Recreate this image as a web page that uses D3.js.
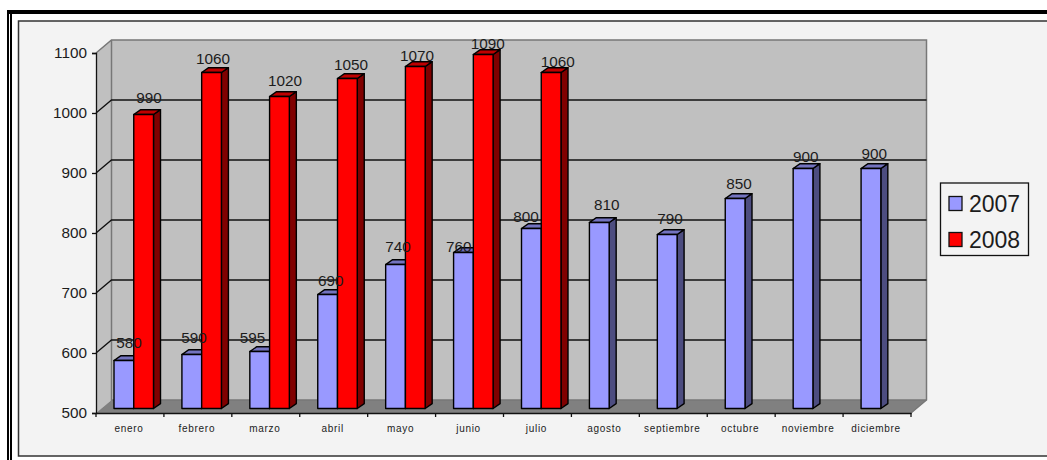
<!DOCTYPE html>
<html>
<head>
<title>2007 vs 2008</title>
<script src="https://d3js.org/d3.v7.min.js"></script>
<style>
body { margin: 0; background: #fff; }
svg { display: block; }
text { font-family: "Liberation Sans", Arial, sans-serif; fill: #1c1c1c; }
</style>
</head>
<body>
<div id="chart"></div>
<script>
var months = ["enero", "febrero", "marzo", "abril", "mayo", "junio", "julio", "agosto", "septiembre", "octubre", "noviembre", "diciembre"];
var values2007 = [580, 590, 595, 690, 740, 760, 800, 810, 790, 850, 900, 900];
var values2008 = [990, 1060, 1020, 1050, 1070, 1090, 1060];
var yTicks = [500, 600, 700, 800, 900, 1000, 1100];
var seriesNames = ["2007", "2008"];

// the value labels were dragged by hand in the original, so each has its own nudge from the bar top
var nudgeX = {
	"2007": [5.1, 2.2, -7.2, 3.1, 2.5, -4.8, -5.4, 7.4, 2.8, 3.9, 2.7, 3.2],
	"2008": [5.4, 1.5, 5.6, 3.6, 1.7, 4.5, 6.6]
};
var nudgeY = {
	"2007": [-12.5, -12, -8.5, -8.5, -12.5, -0.5, -6.8, -12.5, -10.2, -9.5, -6.8, -9.5],
	"2008": [-11.5, -8.5, -10.5, -8.5, -5.5, -5.5, -5.5]
};

var width = 1047, height = 460;

// depth of the fake 3d floor, and of the bars standing on it
var wallDx = 15.5, wallDy = -13;
var barDx = 7, barDy = -4.8, barLift = -4.5;

var colors = {
	"2007": { front: "#9999ff", side: "#4d4d80", top: "#7373bf" },
	"2008": { front: "#ff0000", side: "#800000", top: "#bf0000" }
};

var svg = d3.select("#chart").append("svg")
	.attr("width", width)
	.attr("height", height);

// double frame round the picture
svg.append("rect").attr("x", 7).attr("y", 10).attr("width", 2).attr("height", 450).attr("fill", "#000");
svg.append("rect").attr("x", 10).attr("y", 10).attr("width", 2).attr("height", 450).attr("fill", "#000");
svg.append("rect").attr("x", 7).attr("y", 10).attr("width", 1040).attr("height", 4).attr("fill", "#000");

svg.append("rect")
	.attr("x", 18.5).attr("y", 21)
	.attr("width", 1040).attr("height", 435)
	.attr("fill", "#f3f3f3")
	.attr("stroke", "#333")
	.attr("stroke-width", 1.5);

var x = d3.scaleBand().domain(months).range([96, 911]);
var y = d3.scaleLinear().domain([500, 1100]).range([413, 53]);

var x0 = x.range()[0], x1 = x.range()[1];
var y0 = y.range()[0], y1 = y.range()[1];

// side wall, back wall, floor
function poly(points, fill) {
	return svg.append("polygon")
		.attr("points", points.map(function(p) { return p.join(","); }).join(" "))
		.attr("fill", fill);
}

poly([[x0, y0], [x0 + wallDx, y0 + wallDy], [x0 + wallDx, y1 + wallDy], [x0, y1]], "#c0c0c0");
poly([[x0 + wallDx, y0 + wallDy], [x1 + wallDx, y0 + wallDy], [x1 + wallDx, y1 + wallDy], [x0 + wallDx, y1 + wallDy]], "#c0c0c0");
poly([[x0, y0], [x1, y0], [x1 + wallDx, y0 + wallDy], [x0 + wallDx, y0 + wallDy]], "#808080");

// wall edges
svg.append("path")
	.attr("d", "M" + x0 + "," + y1 + "L" + (x0 + wallDx) + "," + (y1 + wallDy) + "H" + (x1 + wallDx) + "V" + (y0 + wallDy) + "L" + x1 + "," + y0)
	.attr("fill", "none").attr("stroke", "#777").attr("stroke-width", 1.5);
svg.append("path")
	.attr("d", "M" + (x0 + wallDx) + "," + (y1 + wallDy) + "V" + (y0 + wallDy) + "H" + (x1 + wallDx))
	.attr("fill", "none").attr("stroke", "#777").attr("stroke-width", 1.5);

// grid lines
svg.selectAll(".grid")
	.data(yTicks.slice(1, -1))
	.enter()
	.append("path")
		.attr("class", "grid")
		.attr("d", function(d) {
			return "M" + x0 + "," + y(d) + "L" + (x0 + wallDx) + "," + (y(d) + wallDy) + "H" + (x1 + wallDx);
		})
		.attr("fill", "none")
		.attr("stroke", "#111")
		.attr("stroke-width", 1.3);

// axes
var yAxis = d3.axisLeft(y).tickValues(yTicks).tickFormat(d3.format("d")).tickSize(4).tickPadding(5);
var gy = svg.append("g").attr("transform", "translate(" + x0 + ",0)").call(yAxis);
gy.selectAll("text").style("font-size", "15.3px");
gy.selectAll("line, path").attr("stroke", "#111").attr("stroke-width", 1.3);

var xAxis = d3.axisBottom(x).tickSize(0).tickPadding(11.5);
var gx = svg.append("g").attr("transform", "translate(0," + y0 + ")").call(xAxis);
gx.selectAll("text").attr("dx", -1).style("font-size", "10px").style("letter-spacing", "0.7px");
gx.select("path").attr("stroke", "#111").attr("stroke-width", 1.3);

svg.selectAll(".xtick")
	.data(months.concat(["end"]))
	.enter()
	.append("line")
		.attr("class", "xtick")
		.attr("x1", function(d, i) { return x0 + i * x.step(); })
		.attr("x2", function(d, i) { return x0 + i * x.step(); })
		.attr("y1", y0)
		.attr("y2", y0 + 4)
		.attr("stroke", "#111")
		.attr("stroke-width", 1.3);

// bars
var inner = d3.scaleBand().domain(seriesNames).range([18, 57.5]);

var rows = [];
months.forEach(function(m, i) {
	rows.push({ month: m, series: "2007", value: values2007[i], index: i });
	if (i < values2008.length) rows.push({ month: m, series: "2008", value: values2008[i], index: i });
});

var bars = svg.selectAll(".bar")
	.data(rows)
	.enter()
	.append("g")
		.attr("class", "bar")
		.attr("stroke", "#000")
		.attr("stroke-width", 1.4)
		.attr("stroke-linejoin", "round");

function left(d) { return x(d.month) + inner(d.series); }
function right(d) { return left(d) + inner.bandwidth(); }
function topY(d) { return y(d.value) + barLift; }
var floorY = y0 + barLift;

bars.append("path")
	.attr("d", function(d) {
		return "M" + right(d) + "," + topY(d) + "l" + barDx + "," + barDy + "V" + (floorY + barDy) + "L" + right(d) + "," + floorY + "Z";
	})
	.attr("fill", function(d) { return colors[d.series].side; });

bars.append("path")
	.attr("d", function(d) {
		return "M" + left(d) + "," + topY(d) + "l" + barDx + "," + barDy + "H" + (right(d) + barDx) + "L" + right(d) + "," + topY(d) + "Z";
	})
	.attr("fill", function(d) { return colors[d.series].top; });

bars.append("rect")
	.attr("x", left)
	.attr("y", topY)
	.attr("width", inner.bandwidth())
	.attr("height", function(d) { return floorY - topY(d); })
	.attr("fill", function(d) { return colors[d.series].front; });

// value labels, on top of everything
svg.selectAll(".value")
	.data(rows)
	.enter()
	.append("text")
		.attr("class", "value")
		.text(function(d) { return d.value; })
		.attr("x", function(d) { return (left(d) + right(d)) / 2 + nudgeX[d.series][d.index]; })
		.attr("y", function(d) { return topY(d) + nudgeY[d.series][d.index]; })
		.style("text-anchor", "middle")
		.style("font-size", "15.3px");

// legend
var legend = svg.append("g");
legend.append("rect")
	.attr("x", 940.5).attr("y", 183)
	.attr("width", 88).attr("height", 72.5)
	.attr("fill", "#f3f3f3")
	.attr("stroke", "#111")
	.attr("stroke-width", 1.3);

var legendY = d3.scalePoint().domain(seriesNames).range([203.5, 239.5]);

legend.selectAll(".swatch")
	.data(seriesNames)
	.enter()
	.append("rect")
		.attr("class", "swatch")
		.attr("x", 949)
		.attr("y", function(d) { return legendY(d) - 7; })
		.attr("width", 13)
		.attr("height", 14)
		.attr("fill", function(d) { return colors[d].front; })
		.attr("stroke", "#111")
		.attr("stroke-width", 1.3);

legend.selectAll(".name")
	.data(seriesNames)
	.enter()
	.append("text")
		.attr("class", "name")
		.text(function(d) { return d; })
		.attr("x", 969)
		.attr("y", function(d) { return legendY(d) + 8; })
		.style("font-size", "23px");
</script>
</body>
</html>
